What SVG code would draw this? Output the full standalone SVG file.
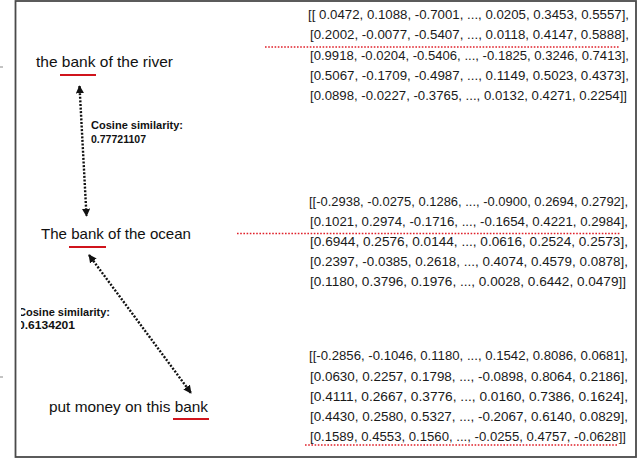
<svg xmlns="http://www.w3.org/2000/svg" width="640" height="460" viewBox="0 0 640 460">
<style>
.lbl{font-family:"Liberation Sans",Arial,sans-serif;font-size:15px;fill:#111}
.cos{font-family:"Liberation Sans",Arial,sans-serif;font-size:11px;font-weight:bold;fill:#111}
.mx{font-family:"Liberation Sans",Arial,sans-serif;font-size:13.2px;fill:#1a1a1a}
.ul{stroke:#d0141c;stroke-width:2}
.dot{stroke:#e0202a;stroke-width:1.6;stroke-dasharray:1.6 1.6;fill:none}
.conn{stroke:#111;stroke-width:2.4;stroke-dasharray:2 1.6;fill:none}
</style>
<defs>
<marker id="ah" viewBox="0 0 10 10" refX="9" refY="5" markerWidth="3.4" markerHeight="3.4" orient="auto-start-reverse" markerUnits="strokeWidth">
<path d="M0,0 L10,5 L0,10 z" fill="#111"/>
</marker>
<clipPath id="inner"><rect x="21" y="2" width="614" height="454"/></clipPath>
</defs>
<rect width="640" height="460" fill="#fff"/>
<rect x="15.5" y="1" width="620.5" height="456" fill="none" stroke="#4a4a4a" stroke-width="1.8"/>
<line x1="0" y1="67" x2="3" y2="67" stroke="#888" stroke-width="1"/>
<line x1="0" y1="377" x2="3" y2="377" stroke="#888" stroke-width="1"/>

<g id="node-river">
<text class="lbl" x="36" y="67" textLength="137" lengthAdjust="spacingAndGlyphs">the bank of the river</text>
<line class="ul" x1="60" y1="75" x2="96" y2="75"/>
</g>
<g id="node-ocean">
<text class="lbl" x="41" y="239" textLength="150" lengthAdjust="spacingAndGlyphs">The bank of the ocean</text>
<line class="ul" x1="69" y1="247" x2="106" y2="247"/>
</g>
<g id="node-money">
<text class="lbl" x="49" y="412" textLength="159" lengthAdjust="spacingAndGlyphs">put money on this bank</text>
<line class="ul" x1="173" y1="419" x2="209" y2="419"/>
</g>

<g id="connectors">
<line class="conn" x1="79.5" y1="86" x2="86.5" y2="216" marker-start="url(#ah)" marker-end="url(#ah)"/>
<line class="conn" x1="89" y1="255" x2="191" y2="393" marker-start="url(#ah)" marker-end="url(#ah)"/>
</g>

<g id="label-cos1">
<text class="cos" x="91" y="129" textLength="92" lengthAdjust="spacingAndGlyphs">Cosine similarity:</text>
<text class="cos" x="91" y="142.5" textLength="55" lengthAdjust="spacingAndGlyphs">0.77721107</text>
</g>
<g id="label-cos2" clip-path="url(#inner)">
<text class="cos" x="18" y="315.5" textLength="92" lengthAdjust="spacingAndGlyphs">Cosine similarity:</text>
<text class="cos" x="18" y="329" textLength="57" lengthAdjust="spacingAndGlyphs">0.6134201</text>
</g>

<g id="matrix-river">
<text class="mx" x="308" y="19" textLength="321" lengthAdjust="spacingAndGlyphs">[[ 0.0472, 0.1088, -0.7001, ..., 0.0205, 0.3453, 0.5557],</text>
<text class="mx" x="310" y="39.3" textLength="319" lengthAdjust="spacingAndGlyphs">[0.2002, -0.0077, -0.5407, ..., 0.0118, 0.4147, 0.5888],</text>
<text class="mx" x="310" y="59.5" textLength="319" lengthAdjust="spacingAndGlyphs">[0.9918, -0.0204, -0.5406, ..., -0.1825, 0.3246, 0.7413],</text>
<text class="mx" x="310" y="79.8" textLength="319" lengthAdjust="spacingAndGlyphs">[0.5067, -0.1709, -0.4987, ..., 0.1149, 0.5023, 0.4373],</text>
<text class="mx" x="310" y="100" textLength="317" lengthAdjust="spacingAndGlyphs">[0.0898, -0.0227, -0.3765, ..., 0.0132, 0.4271, 0.2254]]</text>
<line class="dot" x1="265" y1="47" x2="620" y2="47"/>
</g>
<g id="matrix-ocean">
<text class="mx" x="309" y="205.5" textLength="319" lengthAdjust="spacingAndGlyphs">[[-0.2938, -0.0275, 0.1286, ..., -0.0900, 0.2694, 0.2792],</text>
<text class="mx" x="310" y="225.5" textLength="318" lengthAdjust="spacingAndGlyphs">[0.1021, 0.2974, -0.1716, ..., -0.1654, 0.4221, 0.2984],</text>
<text class="mx" x="310" y="245.5" textLength="318" lengthAdjust="spacingAndGlyphs">[0.6944, 0.2576, 0.0144, ..., 0.0616, 0.2524, 0.2573],</text>
<text class="mx" x="310" y="265.5" textLength="318" lengthAdjust="spacingAndGlyphs">[0.2397, -0.0385, 0.2618, ..., 0.4074, 0.4579, 0.0878],</text>
<text class="mx" x="310" y="285.5" textLength="316" lengthAdjust="spacingAndGlyphs">[0.1180, 0.3796, 0.1976, ..., 0.0028, 0.6442, 0.0479]]</text>
<line class="dot" x1="237" y1="233.5" x2="620" y2="233.5"/>
</g>
<g id="matrix-money">
<text class="mx" x="309" y="360" textLength="319" lengthAdjust="spacingAndGlyphs">[[-0.2856, -0.1046, 0.1180, ..., 0.1542, 0.8086, 0.0681],</text>
<text class="mx" x="310" y="380.5" textLength="318" lengthAdjust="spacingAndGlyphs">[0.0630, 0.2257, 0.1798, ..., -0.0898, 0.8064, 0.2186],</text>
<text class="mx" x="310" y="400.5" textLength="318" lengthAdjust="spacingAndGlyphs">[0.4111, 0.2667, 0.3776, ..., 0.0160, 0.7386, 0.1624],</text>
<text class="mx" x="310" y="420.5" textLength="318" lengthAdjust="spacingAndGlyphs">[0.4430, 0.2580, 0.5327, ..., -0.2067, 0.6140, 0.0829],</text>
<text class="mx" x="310" y="441" textLength="316" lengthAdjust="spacingAndGlyphs">[0.1589, 0.4553, 0.1560, ..., -0.0255, 0.4757, -0.0628]]</text>
<line class="dot" x1="305" y1="445" x2="618" y2="445"/>
</g>
</svg>
